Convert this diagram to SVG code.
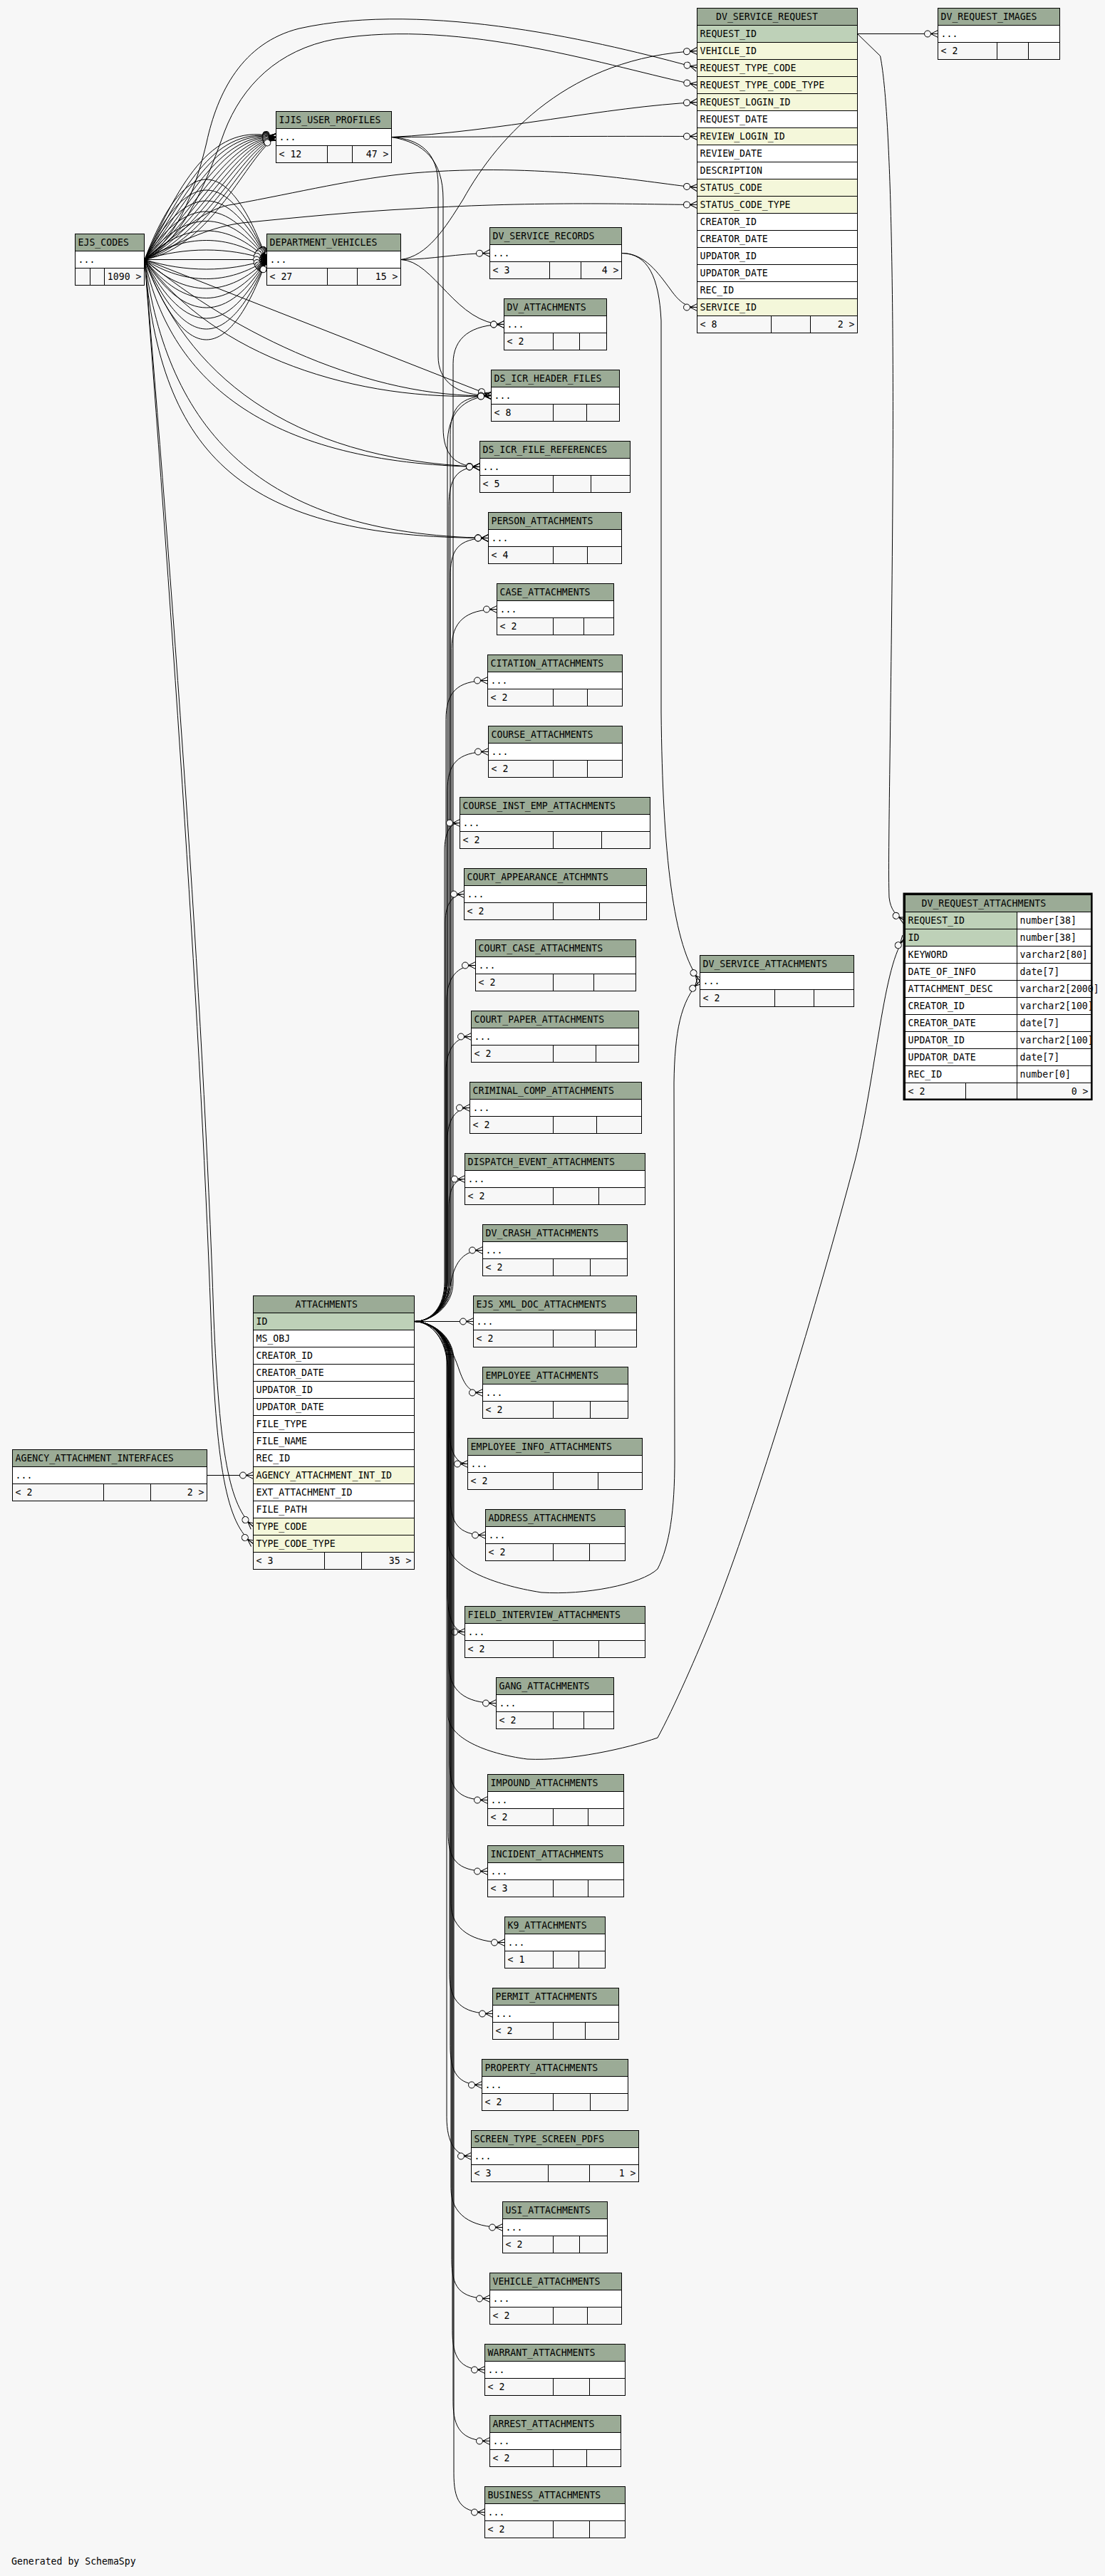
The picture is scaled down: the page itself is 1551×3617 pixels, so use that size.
<svg xmlns="http://www.w3.org/2000/svg" width="1551" height="3617" viewBox="0 0 1551 3617">
<style>
.h{fill:#9bab96;stroke:#000;stroke-width:1}
.pk{fill:#bed1b8;stroke:#000;stroke-width:1}
.fk{fill:#f4f7da;stroke:#000;stroke-width:1}
.w{fill:#fff;stroke:#000;stroke-width:1}
.ft{fill:#f7f7f7;stroke:#000;stroke-width:1}
.n{fill:none;stroke:#000;stroke-width:1}
.c{fill:none;stroke:#000;stroke-width:1;marker-end:url(#crow)}
.t{font-family:"DejaVu Sans Mono","Liberation Mono",monospace;font-size:13.2px;fill:#000}
.e{text-anchor:end}
</style>
<defs>
<marker id="crow" viewBox="-21 -7 22 14" refX="0" refY="0" markerWidth="22" markerHeight="14" markerUnits="userSpaceOnUse" orient="auto">
<path d="M-10,0 L0,-5 M-10,0 L0,0 M-10,0 L0,5" fill="none" stroke="#000" stroke-width="1"/>
<circle cx="-14.5" cy="0" r="4.5" fill="#f7f7f7" stroke="#000" stroke-width="1"/>
</marker>
</defs>
<rect x="0" y="0" width="1551" height="3617" fill="#f7f7f7"/>

<g id="connectors">
<!-- DV_SERVICE_REQUEST -> children -->
<path class="c" d="M1203.5,47.5 L1316.5,47.5"/>
<path class="c" d="M1203.5,47.5 L1235.5,78.5 C1250,150 1255,400 1253,700 C1251,1000 1246,1200 1248,1260 C1250,1278 1258,1286 1270.5,1292.5"/>
<!-- ATTACHMENTS loops -->
<path class="c" d="M582,1855.5 C605,1856 628,1880 629,1920 L630,2170 C632,2200 690,2225 760,2236 C820,2240 900,2225 923,2203 C940,2170 947,2120 947,2050 L946,1520 C947,1450 955,1405 982.5,1377.5"/>
<path class="c" d="M582,1855.5 C605,1856 627,1880 628,1920 L629,2410 C631,2440 680,2462 740,2470 C800,2473 880,2455 923,2440 C945,2400 980,2320 1000,2270 C1060,2120 1150,1820 1200,1630 C1230,1510 1240,1350 1270.5,1316.5"/>
<!-- DV_SERVICE_RECORDS -> children -->
<path class="c" d="M872.5,355.5 C905,355 925,385 940,405 C952,422 962,431.5 978.5,431.5"/>
<path class="c" d="M872.5,355.5 C910,356 925,390 928,450 L928,1000 C930,1200 945,1330 982.5,1377.5"/>
<!-- DEPARTMENT_VEHICLES -> children -->
<path class="c" d="M562.5,364.5 C610,364 640,356 687.5,355.5"/>
<path class="c" d="M562.5,364.5 C610,366 640,455.5 707.5,455.5"/>
<path class="c" d="M562.5,364.5 C600,360 625,320 650,280 C700,190 800,80 978.5,71.5"/>
<!-- IJIS_USER_PROFILES -> children -->
<path class="c" d="M549.5,192.5 C700,185 850,150 978.5,143.5"/>
<path class="c" d="M549.5,192.5 C700,192 850,191 978.5,191.5"/>
<path class="c" d="M549.5,192.5 C590,195 615,215 615,260 L615,500 C615,535 640,555.5 689.5,555.5"/>
<path class="c" d="M549.5,192.5 C595,200 622,225 622,280 L622,600 C622,640 640,655.5 673.5,655.5"/>
<!-- EJS_CODES -> DV_SERVICE_REQUEST -->
<path class="c" d="M203,364.5 C255,330 278,250 290,200 C305,130 340,60 420,40 C600,0 850,60 978.5,95.5"/>
<path class="c" d="M203,364.5 C262,335 295,240 315,185 C340,120 390,70 470,55 C650,25 860,95 978.5,119.5"/>
<path class="c" d="M203,364.5 C260,320 290,292 327,287 C420,270 500,250 580,243 C760,228 900,255 978.5,263.5"/>
<path class="c" d="M203,364.5 C260,335 300,318 340,313 C420,305 500,297 580,293 C760,282 900,287 978.5,287.5"/>
<!-- EJS_CODES -> IJIS_USER_PROFILES -->
<path class="c" d="M203,364.5 C255,250 300,170 387.5,192.5"/>
<path class="c" d="M203,364.5 C259,259 304,175 387.5,192.5"/>
<path class="c" d="M203,364.5 C263,267 308,179 387.5,192.5"/>
<path class="c" d="M203,364.5 C267,276 312,184 387.5,192.5"/>
<path class="c" d="M203,364.5 C271,285 316,188 387.5,192.5"/>
<path class="c" d="M203,364.5 C276,293 321,193 387.5,192.5"/>
<path class="c" d="M203,364.5 C280,302 325,197 387.5,192.5"/>
<path class="c" d="M203,364.5 C284,311 329,202 387.5,192.5"/>
<path class="c" d="M203,364.5 C288,319 333,206 387.5,192.5"/>
<path class="c" d="M203,364.5 C292,328 337,211 387.5,192.5"/>
<path class="c" d="M203,364.5 C296,336 341,216 387.5,192.5"/>
<path class="c" d="M203,364.5 C300,345 345,220 387.5,192.5"/>
<!-- EJS_CODES -> DEPARTMENT_VEHICLES -->
<path class="c" d="M203,364.5 C260,214.5 320,214.5 374.5,364.5"/>
<path class="c" d="M203,364.5 C260,234.5 320,234.5 374.5,364.5"/>
<path class="c" d="M203,364.5 C260,254.5 320,254.5 374.5,364.5"/>
<path class="c" d="M203,364.5 C260,274.5 320,274.5 374.5,364.5"/>
<path class="c" d="M203,364.5 C260,292.5 320,292.5 374.5,364.5"/>
<path class="c" d="M203,364.5 C260,310.5 320,310.5 374.5,364.5"/>
<path class="c" d="M203,364.5 C260,328.5 320,328.5 374.5,364.5"/>
<path class="c" d="M203,364.5 C260,346.5 320,346.5 374.5,364.5"/>
<path class="c" d="M203,364.5 L374.5,364.5"/>
<path class="c" d="M203,364.5 C260,382.5 320,382.5 374.5,364.5"/>
<path class="c" d="M203,364.5 C260,400.5 320,400.5 374.5,364.5"/>
<path class="c" d="M203,364.5 C260,418.5 320,418.5 374.5,364.5"/>
<path class="c" d="M203,364.5 C260,436.5 320,436.5 374.5,364.5"/>
<path class="c" d="M203,364.5 C260,454.5 320,454.5 374.5,364.5"/>
<path class="c" d="M203,364.5 C260,474.5 320,474.5 374.5,364.5"/>
<path class="c" d="M203,364.5 C260,494.5 320,494.5 374.5,364.5"/>
<path class="c" d="M203,364.5 C260,514.5 320,514.5 374.5,364.5"/>
<!-- EJS_CODES -> right column -->
<path class="c" d="M203,364.5 L689.5,555.5"/>
<path class="c" d="M203,364.5 C330,470 520,560 689.5,555.5"/>
<path class="c" d="M203,364.5 C300,500 500,565 689.5,555.5"/>
<path class="c" d="M203,364.5 C260,520 400,645 673.5,655.5"/>
<path class="c" d="M203,364.5 C240,540 380,650 673.5,655.5"/>
<path class="c" d="M203,364.5 C235,600 360,750 685.5,755.5"/>
<path class="c" d="M203,364.5 C225,640 340,755 685.5,755.5"/>
<!-- EJS_CODES -> ATTACHMENTS -->
<path class="c" d="M203,364.5 C240,800 285,1400 300,1850 C308,2040 322,2115 355.5,2143.5"/>
<path class="c" d="M203,364.5 C236,800 280,1400 296,1850 C303,2060 318,2140 355.5,2167.5"/>
<!-- AGENCY_ATTACHMENT_INTERFACES -> ATTACHMENTS -->
<path class="c" d="M290.5,2071.5 L355.5,2071.5"/>
<!-- ATTACHMENTS -> right column (up) -->
<path class="c" d="M582,1855.5 C605,1855.5 636,1835 636,1800 L636,510.5 C636,473.5 662,455.5 707.5,455.5"/>
<path class="c" d="M582,1855.5 C605,1855.5 632,1835 632,1800 L632,610.5 C632,573.5 645,555.5 689.5,555.5"/>
<path class="c" d="M582,1855.5 C605,1855.5 628,1835 628,1800 L628,625 C628,580 650,558 689.5,555.5"/>
<path class="c" d="M582,1855.5 C605,1855.5 630,1835 630,1800 L630,710.5 C630,673.5 640,655.5 673.5,655.5"/>
<path class="c" d="M582,1855.5 C605,1855.5 632,1835 632,1800 L632,810.5 C632,773.5 641,755.5 685.5,755.5"/>
<path class="c" d="M582,1855.5 C605,1855.5 634,1835 634,1800 L634,910.5 C634,873.5 653,855.5 697.5,855.5"/>
<path class="c" d="M582,1855.5 C605,1855.5 626,1835 626,1800 L626,1010.5 C626,973.5 640,955.5 684.5,955.5"/>
<path class="c" d="M582,1855.5 C605,1855.5 628,1835 628,1800 L628,1110.5 C628,1073.5 641,1055.5 685.5,1055.5"/>
<path class="c" d="M582,1855.5 C605,1855.5 624,1835 624,1800 L624,1195 C624,1168 632,1155.5 645.5,1155.5"/>
<path class="c" d="M582,1855.5 C605,1855.5 625,1835 625,1800 L625,1295 C625,1268 636,1255.5 651.5,1255.5"/>
<path class="c" d="M582,1855.5 C605,1855.5 627,1835 627,1800 L627,1405 C627,1373 642,1355.5 667.5,1355.5"/>
<path class="c" d="M582,1855.5 C605,1855.5 626,1835 626,1800 L626,1505 C626,1473 640,1455.5 661.5,1455.5"/>
<path class="c" d="M582,1855.5 C605,1855.5 628,1835 628,1800 L628,1600 C628,1572 640,1555.5 659.5,1555.5"/>
<path class="c" d="M582,1855.5 C605,1855.5 630,1835 630,1800 L630,1695 C630,1670 638,1655.5 652.5,1655.5"/>
<path class="c" d="M582,1855.5 C612,1855 628,1828 633,1800 C639,1770 652,1755.5 677.5,1755.5"/>
<!-- ATTACHMENTS -> right column (same row / down) -->
<path class="c" d="M582,1855.5 L664.5,1855.5"/>
<path class="c" d="M582,1855.5 C618,1857 635,1895 645,1925 C653,1947 660,1955.5 677.5,1955.5"/>
<path class="c" d="M582,1855.5 C605,1855.5 630,1875 630,1910 L630,2000.5 C630,2037.5 640,2055.5 656.5,2055.5"/>
<path class="c" d="M582,1855.5 C605,1855.5 632,1875 632,1910 L632,2100.5 C632,2137.5 642,2155.5 681.5,2155.5"/>
<path class="c" d="M582,1855.5 C605,1855.5 628,1875 628,1910 L628,2236.5 C628,2273.5 638,2291.5 652.5,2291.5"/>
<path class="c" d="M582,1855.5 C605,1855.5 630,1875 630,1910 L630,2336.5 C630,2373.5 652,2391.5 696.5,2391.5"/>
<path class="c" d="M582,1855.5 C605,1855.5 631,1875 631,1910 L631,2472.5 C631,2509.5 640,2527.5 684.5,2527.5"/>
<path class="c" d="M582,1855.5 C605,1855.5 629,1875 629,1910 L629,2572.5 C629,2609.5 640,2627.5 684.5,2627.5"/>
<path class="c" d="M582,1855.5 C605,1855.5 633,1875 633,1910 L633,2672.5 C633,2709.5 664,2727.5 708.5,2727.5"/>
<path class="c" d="M582,1855.5 C605,1855.5 631,1875 631,1910 L631,2772.5 C631,2809.5 647,2827.5 691.5,2827.5"/>
<path class="c" d="M582,1855.5 C605,1855.5 632,1875 632,1910 L632,2872.5 C632,2909.5 642,2927.5 676.5,2927.5"/>
<path class="c" d="M582,1855.5 C605,1855.5 627,1875 627,1910 L627,2972.5 C627,3009.5 640,3027.5 661.5,3027.5"/>
<path class="c" d="M582,1855.5 C605,1855.5 633,1875 633,1910 L633,3072.5 C633,3109.5 661,3127.5 705.5,3127.5"/>
<path class="c" d="M582,1855.5 C605,1855.5 634,1875 634,1910 L634,3172.5 C634,3209.5 643,3227.5 687.5,3227.5"/>
<path class="c" d="M582,1855.5 C605,1855.5 635,1875 635,1910 L635,3272.5 C635,3309.5 645,3327.5 680.5,3327.5"/>
<path class="c" d="M582,1855.5 C605,1855.5 636,1875 636,1910 L636,3372.5 C636,3409.5 648,3427.5 687.5,3427.5"/>
<path class="c" d="M582,1855.5 C605,1855.5 637,1875 637,1910 L637,3472.5 C637,3509.5 645,3527.5 680.5,3527.5"/>
</g>

<g id="DV_SERVICE_REQUEST">
<rect class="h" x="978.5" y="11.5" width="225" height="24"/>
<rect class="pk" x="978.5" y="35.5" width="225" height="24"/>
<rect class="fk" x="978.5" y="59.5" width="225" height="24"/>
<rect class="fk" x="978.5" y="83.5" width="225" height="24"/>
<rect class="fk" x="978.5" y="107.5" width="225" height="24"/>
<rect class="fk" x="978.5" y="131.5" width="225" height="24"/>
<rect class="w" x="978.5" y="155.5" width="225" height="24"/>
<rect class="fk" x="978.5" y="179.5" width="225" height="24"/>
<rect class="w" x="978.5" y="203.5" width="225" height="24"/>
<rect class="w" x="978.5" y="227.5" width="225" height="24"/>
<rect class="fk" x="978.5" y="251.5" width="225" height="24"/>
<rect class="fk" x="978.5" y="275.5" width="225" height="24"/>
<rect class="w" x="978.5" y="299.5" width="225" height="24"/>
<rect class="w" x="978.5" y="323.5" width="225" height="24"/>
<rect class="w" x="978.5" y="347.5" width="225" height="24"/>
<rect class="w" x="978.5" y="371.5" width="225" height="24"/>
<rect class="w" x="978.5" y="395.5" width="225" height="24"/>
<rect class="fk" x="978.5" y="419.5" width="225" height="24"/>
<rect class="ft" x="978.5" y="443.5" width="225" height="24"/>
<path class="n" d="M1082.5,443.5v24M1137.5,443.5v24"/>
<text class="t" x="1005" y="28">DV_SERVICE_REQUEST</text>
<text class="t" x="982.5" y="52">REQUEST_ID</text>
<text class="t" x="982.5" y="76">VEHICLE_ID</text>
<text class="t" x="982.5" y="100">REQUEST_TYPE_CODE</text>
<text class="t" x="982.5" y="124">REQUEST_TYPE_CODE_TYPE</text>
<text class="t" x="982.5" y="148">REQUEST_LOGIN_ID</text>
<text class="t" x="982.5" y="172">REQUEST_DATE</text>
<text class="t" x="982.5" y="196">REVIEW_LOGIN_ID</text>
<text class="t" x="982.5" y="220">REVIEW_DATE</text>
<text class="t" x="982.5" y="244">DESCRIPTION</text>
<text class="t" x="982.5" y="268">STATUS_CODE</text>
<text class="t" x="982.5" y="292">STATUS_CODE_TYPE</text>
<text class="t" x="982.5" y="316">CREATOR_ID</text>
<text class="t" x="982.5" y="340">CREATOR_DATE</text>
<text class="t" x="982.5" y="364">UPDATOR_ID</text>
<text class="t" x="982.5" y="388">UPDATOR_DATE</text>
<text class="t" x="982.5" y="412">REC_ID</text>
<text class="t" x="982.5" y="436">SERVICE_ID</text>
<text class="t" x="982.5" y="460">&lt; 8</text>
<text class="t e" x="1199.5" y="460">2 &gt;</text>
</g>

<g id="DV_REQUEST_IMAGES">
<rect class="h" x="1316.5" y="11.5" width="171" height="24"/>
<rect class="w" x="1316.5" y="35.5" width="171" height="24"/>
<rect class="ft" x="1316.5" y="59.5" width="171" height="24"/>
<path class="n" d="M1399.5,59.5v24M1443.5,59.5v24"/>
<text class="t" x="1320.5" y="28">DV_REQUEST_IMAGES</text>
<text class="t" x="1320.5" y="52">...</text>
<text class="t" x="1320.5" y="76">&lt; 2</text>
</g>

<g id="EJS_CODES">
<rect class="h" x="105.5" y="328.5" width="97" height="24"/>
<rect class="w" x="105.5" y="352.5" width="97" height="24"/>
<rect class="ft" x="105.5" y="376.5" width="97" height="24"/>
<path class="n" d="M126.5,376.5v24M146.5,376.5v24"/>
<text class="t" x="109.5" y="345">EJS_CODES</text>
<text class="t" x="109.5" y="369">...</text>
<text class="t e" x="198.5" y="393">1090 &gt;</text>
</g>

<g id="IJIS_USER_PROFILES">
<rect class="h" x="387.5" y="156.5" width="162" height="24"/>
<rect class="w" x="387.5" y="180.5" width="162" height="24"/>
<rect class="ft" x="387.5" y="204.5" width="162" height="24"/>
<path class="n" d="M459.5,204.5v24M494.5,204.5v24"/>
<text class="t" x="391.5" y="173">IJIS_USER_PROFILES</text>
<text class="t" x="391.5" y="197">...</text>
<text class="t" x="391.5" y="221">&lt; 12</text>
<text class="t e" x="545.5" y="221">47 &gt;</text>
</g>

<g id="DEPARTMENT_VEHICLES">
<rect class="h" x="374.5" y="328.5" width="188" height="24"/>
<rect class="w" x="374.5" y="352.5" width="188" height="24"/>
<rect class="ft" x="374.5" y="376.5" width="188" height="24"/>
<path class="n" d="M459.5,376.5v24M501.5,376.5v24"/>
<text class="t" x="378.5" y="345">DEPARTMENT_VEHICLES</text>
<text class="t" x="378.5" y="369">...</text>
<text class="t" x="378.5" y="393">&lt; 27</text>
<text class="t e" x="558.5" y="393">15 &gt;</text>
</g>

<g id="DV_SERVICE_RECORDS">
<rect class="h" x="687.5" y="319.5" width="185" height="24"/>
<rect class="w" x="687.5" y="343.5" width="185" height="24"/>
<rect class="ft" x="687.5" y="367.5" width="185" height="24"/>
<path class="n" d="M771.5,367.5v24M815.5,367.5v24"/>
<text class="t" x="691.5" y="336">DV_SERVICE_RECORDS</text>
<text class="t" x="691.5" y="360">...</text>
<text class="t" x="691.5" y="384">&lt; 3</text>
<text class="t e" x="868.5" y="384">4 &gt;</text>
</g>

<g id="DV_ATTACHMENTS">
<rect class="h" x="707.5" y="419.5" width="144" height="24"/>
<rect class="w" x="707.5" y="443.5" width="144" height="24"/>
<rect class="ft" x="707.5" y="467.5" width="144" height="24"/>
<path class="n" d="M776.5,467.5v24M813.5,467.5v24"/>
<text class="t" x="711.5" y="436">DV_ATTACHMENTS</text>
<text class="t" x="711.5" y="460">...</text>
<text class="t" x="711.5" y="484">&lt; 2</text>
</g>

<g id="DS_ICR_HEADER_FILES">
<rect class="h" x="689.5" y="519.5" width="180" height="24"/>
<rect class="w" x="689.5" y="543.5" width="180" height="24"/>
<rect class="ft" x="689.5" y="567.5" width="180" height="24"/>
<path class="n" d="M776.5,567.5v24M823.5,567.5v24"/>
<text class="t" x="693.5" y="536">DS_ICR_HEADER_FILES</text>
<text class="t" x="693.5" y="560">...</text>
<text class="t" x="693.5" y="584">&lt; 8</text>
</g>

<g id="DS_ICR_FILE_REFERENCES">
<rect class="h" x="673.5" y="619.5" width="211" height="24"/>
<rect class="w" x="673.5" y="643.5" width="211" height="24"/>
<rect class="ft" x="673.5" y="667.5" width="211" height="24"/>
<path class="n" d="M776.5,667.5v24M829.5,667.5v24"/>
<text class="t" x="677.5" y="636">DS_ICR_FILE_REFERENCES</text>
<text class="t" x="677.5" y="660">...</text>
<text class="t" x="677.5" y="684">&lt; 5</text>
</g>

<g id="PERSON_ATTACHMENTS">
<rect class="h" x="685.5" y="719.5" width="187" height="24"/>
<rect class="w" x="685.5" y="743.5" width="187" height="24"/>
<rect class="ft" x="685.5" y="767.5" width="187" height="24"/>
<path class="n" d="M776.5,767.5v24M824.5,767.5v24"/>
<text class="t" x="689.5" y="736">PERSON_ATTACHMENTS</text>
<text class="t" x="689.5" y="760">...</text>
<text class="t" x="689.5" y="784">&lt; 4</text>
</g>

<g id="CASE_ATTACHMENTS">
<rect class="h" x="697.5" y="819.5" width="164" height="24"/>
<rect class="w" x="697.5" y="843.5" width="164" height="24"/>
<rect class="ft" x="697.5" y="867.5" width="164" height="24"/>
<path class="n" d="M776.5,867.5v24M819.5,867.5v24"/>
<text class="t" x="701.5" y="836">CASE_ATTACHMENTS</text>
<text class="t" x="701.5" y="860">...</text>
<text class="t" x="701.5" y="884">&lt; 2</text>
</g>

<g id="CITATION_ATTACHMENTS">
<rect class="h" x="684.5" y="919.5" width="189" height="24"/>
<rect class="w" x="684.5" y="943.5" width="189" height="24"/>
<rect class="ft" x="684.5" y="967.5" width="189" height="24"/>
<path class="n" d="M776.5,967.5v24M824.5,967.5v24"/>
<text class="t" x="688.5" y="936">CITATION_ATTACHMENTS</text>
<text class="t" x="688.5" y="960">...</text>
<text class="t" x="688.5" y="984">&lt; 2</text>
</g>

<g id="COURSE_ATTACHMENTS">
<rect class="h" x="685.5" y="1019.5" width="188" height="24"/>
<rect class="w" x="685.5" y="1043.5" width="188" height="24"/>
<rect class="ft" x="685.5" y="1067.5" width="188" height="24"/>
<path class="n" d="M776.5,1067.5v24M824.5,1067.5v24"/>
<text class="t" x="689.5" y="1036">COURSE_ATTACHMENTS</text>
<text class="t" x="689.5" y="1060">...</text>
<text class="t" x="689.5" y="1084">&lt; 2</text>
</g>

<g id="COURSE_INST_EMP_ATTACHMENTS">
<rect class="h" x="645.5" y="1119.5" width="267" height="24"/>
<rect class="w" x="645.5" y="1143.5" width="267" height="24"/>
<rect class="ft" x="645.5" y="1167.5" width="267" height="24"/>
<path class="n" d="M776.5,1167.5v24M844.5,1167.5v24"/>
<text class="t" x="649.5" y="1136">COURSE_INST_EMP_ATTACHMENTS</text>
<text class="t" x="649.5" y="1160">...</text>
<text class="t" x="649.5" y="1184">&lt; 2</text>
</g>

<g id="COURT_APPEARANCE_ATCHMNTS">
<rect class="h" x="651.5" y="1219.5" width="256" height="24"/>
<rect class="w" x="651.5" y="1243.5" width="256" height="24"/>
<rect class="ft" x="651.5" y="1267.5" width="256" height="24"/>
<path class="n" d="M776.5,1267.5v24M841.5,1267.5v24"/>
<text class="t" x="655.5" y="1236">COURT_APPEARANCE_ATCHMNTS</text>
<text class="t" x="655.5" y="1260">...</text>
<text class="t" x="655.5" y="1284">&lt; 2</text>
</g>

<g id="COURT_CASE_ATTACHMENTS">
<rect class="h" x="667.5" y="1319.5" width="225" height="24"/>
<rect class="w" x="667.5" y="1343.5" width="225" height="24"/>
<rect class="ft" x="667.5" y="1367.5" width="225" height="24"/>
<path class="n" d="M776.5,1367.5v24M833.5,1367.5v24"/>
<text class="t" x="671.5" y="1336">COURT_CASE_ATTACHMENTS</text>
<text class="t" x="671.5" y="1360">...</text>
<text class="t" x="671.5" y="1384">&lt; 2</text>
</g>

<g id="COURT_PAPER_ATTACHMENTS">
<rect class="h" x="661.5" y="1419.5" width="235" height="24"/>
<rect class="w" x="661.5" y="1443.5" width="235" height="24"/>
<rect class="ft" x="661.5" y="1467.5" width="235" height="24"/>
<path class="n" d="M776.5,1467.5v24M836.5,1467.5v24"/>
<text class="t" x="665.5" y="1436">COURT_PAPER_ATTACHMENTS</text>
<text class="t" x="665.5" y="1460">...</text>
<text class="t" x="665.5" y="1484">&lt; 2</text>
</g>

<g id="CRIMINAL_COMP_ATTACHMENTS">
<rect class="h" x="659.5" y="1519.5" width="241" height="24"/>
<rect class="w" x="659.5" y="1543.5" width="241" height="24"/>
<rect class="ft" x="659.5" y="1567.5" width="241" height="24"/>
<path class="n" d="M776.5,1567.5v24M837.5,1567.5v24"/>
<text class="t" x="663.5" y="1536">CRIMINAL_COMP_ATTACHMENTS</text>
<text class="t" x="663.5" y="1560">...</text>
<text class="t" x="663.5" y="1584">&lt; 2</text>
</g>

<g id="DISPATCH_EVENT_ATTACHMENTS">
<rect class="h" x="652.5" y="1619.5" width="253" height="24"/>
<rect class="w" x="652.5" y="1643.5" width="253" height="24"/>
<rect class="ft" x="652.5" y="1667.5" width="253" height="24"/>
<path class="n" d="M776.5,1667.5v24M840.5,1667.5v24"/>
<text class="t" x="656.5" y="1636">DISPATCH_EVENT_ATTACHMENTS</text>
<text class="t" x="656.5" y="1660">...</text>
<text class="t" x="656.5" y="1684">&lt; 2</text>
</g>

<g id="DV_CRASH_ATTACHMENTS">
<rect class="h" x="677.5" y="1719.5" width="203" height="24"/>
<rect class="w" x="677.5" y="1743.5" width="203" height="24"/>
<rect class="ft" x="677.5" y="1767.5" width="203" height="24"/>
<path class="n" d="M776.5,1767.5v24M828.5,1767.5v24"/>
<text class="t" x="681.5" y="1736">DV_CRASH_ATTACHMENTS</text>
<text class="t" x="681.5" y="1760">...</text>
<text class="t" x="681.5" y="1784">&lt; 2</text>
</g>

<g id="EJS_XML_DOC_ATTACHMENTS">
<rect class="h" x="664.5" y="1819.5" width="229" height="24"/>
<rect class="w" x="664.5" y="1843.5" width="229" height="24"/>
<rect class="ft" x="664.5" y="1867.5" width="229" height="24"/>
<path class="n" d="M776.5,1867.5v24M835.5,1867.5v24"/>
<text class="t" x="668.5" y="1836">EJS_XML_DOC_ATTACHMENTS</text>
<text class="t" x="668.5" y="1860">...</text>
<text class="t" x="668.5" y="1884">&lt; 2</text>
</g>

<g id="EMPLOYEE_ATTACHMENTS">
<rect class="h" x="677.5" y="1919.5" width="204" height="24"/>
<rect class="w" x="677.5" y="1943.5" width="204" height="24"/>
<rect class="ft" x="677.5" y="1967.5" width="204" height="24"/>
<path class="n" d="M776.5,1967.5v24M828.5,1967.5v24"/>
<text class="t" x="681.5" y="1936">EMPLOYEE_ATTACHMENTS</text>
<text class="t" x="681.5" y="1960">...</text>
<text class="t" x="681.5" y="1984">&lt; 2</text>
</g>

<g id="EMPLOYEE_INFO_ATTACHMENTS">
<rect class="h" x="656.5" y="2019.5" width="245" height="24"/>
<rect class="w" x="656.5" y="2043.5" width="245" height="24"/>
<rect class="ft" x="656.5" y="2067.5" width="245" height="24"/>
<path class="n" d="M776.5,2067.5v24M839.5,2067.5v24"/>
<text class="t" x="660.5" y="2036">EMPLOYEE_INFO_ATTACHMENTS</text>
<text class="t" x="660.5" y="2060">...</text>
<text class="t" x="660.5" y="2084">&lt; 2</text>
</g>

<g id="ADDRESS_ATTACHMENTS">
<rect class="h" x="681.5" y="2119.5" width="196" height="24"/>
<rect class="w" x="681.5" y="2143.5" width="196" height="24"/>
<rect class="ft" x="681.5" y="2167.5" width="196" height="24"/>
<path class="n" d="M776.5,2167.5v24M827.5,2167.5v24"/>
<text class="t" x="685.5" y="2136">ADDRESS_ATTACHMENTS</text>
<text class="t" x="685.5" y="2160">...</text>
<text class="t" x="685.5" y="2184">&lt; 2</text>
</g>

<g id="FIELD_INTERVIEW_ATTACHMENTS">
<rect class="h" x="652.5" y="2255.5" width="253" height="24"/>
<rect class="w" x="652.5" y="2279.5" width="253" height="24"/>
<rect class="ft" x="652.5" y="2303.5" width="253" height="24"/>
<path class="n" d="M776.5,2303.5v24M840.5,2303.5v24"/>
<text class="t" x="656.5" y="2272">FIELD_INTERVIEW_ATTACHMENTS</text>
<text class="t" x="656.5" y="2296">...</text>
<text class="t" x="656.5" y="2320">&lt; 2</text>
</g>

<g id="GANG_ATTACHMENTS">
<rect class="h" x="696.5" y="2355.5" width="165" height="24"/>
<rect class="w" x="696.5" y="2379.5" width="165" height="24"/>
<rect class="ft" x="696.5" y="2403.5" width="165" height="24"/>
<path class="n" d="M776.5,2403.5v24M819.5,2403.5v24"/>
<text class="t" x="700.5" y="2372">GANG_ATTACHMENTS</text>
<text class="t" x="700.5" y="2396">...</text>
<text class="t" x="700.5" y="2420">&lt; 2</text>
</g>

<g id="IMPOUND_ATTACHMENTS">
<rect class="h" x="684.5" y="2491.5" width="191" height="24"/>
<rect class="w" x="684.5" y="2515.5" width="191" height="24"/>
<rect class="ft" x="684.5" y="2539.5" width="191" height="24"/>
<path class="n" d="M776.5,2539.5v24M825.5,2539.5v24"/>
<text class="t" x="688.5" y="2508">IMPOUND_ATTACHMENTS</text>
<text class="t" x="688.5" y="2532">...</text>
<text class="t" x="688.5" y="2556">&lt; 2</text>
</g>

<g id="INCIDENT_ATTACHMENTS">
<rect class="h" x="684.5" y="2591.5" width="191" height="24"/>
<rect class="w" x="684.5" y="2615.5" width="191" height="24"/>
<rect class="ft" x="684.5" y="2639.5" width="191" height="24"/>
<path class="n" d="M776.5,2639.5v24M825.5,2639.5v24"/>
<text class="t" x="688.5" y="2608">INCIDENT_ATTACHMENTS</text>
<text class="t" x="688.5" y="2632">...</text>
<text class="t" x="688.5" y="2656">&lt; 3</text>
</g>

<g id="K9_ATTACHMENTS">
<rect class="h" x="708.5" y="2691.5" width="141" height="24"/>
<rect class="w" x="708.5" y="2715.5" width="141" height="24"/>
<rect class="ft" x="708.5" y="2739.5" width="141" height="24"/>
<path class="n" d="M776.5,2739.5v24M812.5,2739.5v24"/>
<text class="t" x="712.5" y="2708">K9_ATTACHMENTS</text>
<text class="t" x="712.5" y="2732">...</text>
<text class="t" x="712.5" y="2756">&lt; 1</text>
</g>

<g id="PERMIT_ATTACHMENTS">
<rect class="h" x="691.5" y="2791.5" width="177" height="24"/>
<rect class="w" x="691.5" y="2815.5" width="177" height="24"/>
<rect class="ft" x="691.5" y="2839.5" width="177" height="24"/>
<path class="n" d="M776.5,2839.5v24M821.5,2839.5v24"/>
<text class="t" x="695.5" y="2808">PERMIT_ATTACHMENTS</text>
<text class="t" x="695.5" y="2832">...</text>
<text class="t" x="695.5" y="2856">&lt; 2</text>
</g>

<g id="PROPERTY_ATTACHMENTS">
<rect class="h" x="676.5" y="2891.5" width="205" height="24"/>
<rect class="w" x="676.5" y="2915.5" width="205" height="24"/>
<rect class="ft" x="676.5" y="2939.5" width="205" height="24"/>
<path class="n" d="M776.5,2939.5v24M828.5,2939.5v24"/>
<text class="t" x="680.5" y="2908">PROPERTY_ATTACHMENTS</text>
<text class="t" x="680.5" y="2932">...</text>
<text class="t" x="680.5" y="2956">&lt; 2</text>
</g>

<g id="SCREEN_TYPE_SCREEN_PDFS">
<rect class="h" x="661.5" y="2991.5" width="235" height="24"/>
<rect class="w" x="661.5" y="3015.5" width="235" height="24"/>
<rect class="ft" x="661.5" y="3039.5" width="235" height="24"/>
<path class="n" d="M769.5,3039.5v24M827.5,3039.5v24"/>
<text class="t" x="665.5" y="3008">SCREEN_TYPE_SCREEN_PDFS</text>
<text class="t" x="665.5" y="3032">...</text>
<text class="t" x="665.5" y="3056">&lt; 3</text>
<text class="t e" x="892.5" y="3056">1 &gt;</text>
</g>

<g id="USI_ATTACHMENTS">
<rect class="h" x="705.5" y="3091.5" width="147" height="24"/>
<rect class="w" x="705.5" y="3115.5" width="147" height="24"/>
<rect class="ft" x="705.5" y="3139.5" width="147" height="24"/>
<path class="n" d="M776.5,3139.5v24M813.5,3139.5v24"/>
<text class="t" x="709.5" y="3108">USI_ATTACHMENTS</text>
<text class="t" x="709.5" y="3132">...</text>
<text class="t" x="709.5" y="3156">&lt; 2</text>
</g>

<g id="VEHICLE_ATTACHMENTS">
<rect class="h" x="687.5" y="3191.5" width="185" height="24"/>
<rect class="w" x="687.5" y="3215.5" width="185" height="24"/>
<rect class="ft" x="687.5" y="3239.5" width="185" height="24"/>
<path class="n" d="M776.5,3239.5v24M824.5,3239.5v24"/>
<text class="t" x="691.5" y="3208">VEHICLE_ATTACHMENTS</text>
<text class="t" x="691.5" y="3232">...</text>
<text class="t" x="691.5" y="3256">&lt; 2</text>
</g>

<g id="WARRANT_ATTACHMENTS">
<rect class="h" x="680.5" y="3291.5" width="197" height="24"/>
<rect class="w" x="680.5" y="3315.5" width="197" height="24"/>
<rect class="ft" x="680.5" y="3339.5" width="197" height="24"/>
<path class="n" d="M776.5,3339.5v24M827.5,3339.5v24"/>
<text class="t" x="684.5" y="3308">WARRANT_ATTACHMENTS</text>
<text class="t" x="684.5" y="3332">...</text>
<text class="t" x="684.5" y="3356">&lt; 2</text>
</g>

<g id="ARREST_ATTACHMENTS">
<rect class="h" x="687.5" y="3391.5" width="184" height="24"/>
<rect class="w" x="687.5" y="3415.5" width="184" height="24"/>
<rect class="ft" x="687.5" y="3439.5" width="184" height="24"/>
<path class="n" d="M776.5,3439.5v24M823.5,3439.5v24"/>
<text class="t" x="691.5" y="3408">ARREST_ATTACHMENTS</text>
<text class="t" x="691.5" y="3432">...</text>
<text class="t" x="691.5" y="3456">&lt; 2</text>
</g>

<g id="BUSINESS_ATTACHMENTS">
<rect class="h" x="680.5" y="3491.5" width="197" height="24"/>
<rect class="w" x="680.5" y="3515.5" width="197" height="24"/>
<rect class="ft" x="680.5" y="3539.5" width="197" height="24"/>
<path class="n" d="M776.5,3539.5v24M827.5,3539.5v24"/>
<text class="t" x="684.5" y="3508">BUSINESS_ATTACHMENTS</text>
<text class="t" x="684.5" y="3532">...</text>
<text class="t" x="684.5" y="3556">&lt; 2</text>
</g>

<g id="DV_SERVICE_ATTACHMENTS">
<rect class="h" x="982.5" y="1341.5" width="216" height="24"/>
<rect class="w" x="982.5" y="1365.5" width="216" height="24"/>
<rect class="ft" x="982.5" y="1389.5" width="216" height="24"/>
<path class="n" d="M1087.5,1389.5v24M1142.5,1389.5v24"/>
<text class="t" x="986.5" y="1358">DV_SERVICE_ATTACHMENTS</text>
<text class="t" x="986.5" y="1382">...</text>
<text class="t" x="986.5" y="1406">&lt; 2</text>
</g>

<g id="DV_REQUEST_ATTACHMENTS">
<rect class="h" x="1270.5" y="1256.5" width="261" height="24"/>
<rect class="pk" x="1270.5" y="1280.5" width="157" height="24"/>
<rect class="w" x="1427.5" y="1280.5" width="104" height="24"/>
<rect class="pk" x="1270.5" y="1304.5" width="157" height="24"/>
<rect class="w" x="1427.5" y="1304.5" width="104" height="24"/>
<rect class="w" x="1270.5" y="1328.5" width="157" height="24"/>
<rect class="w" x="1427.5" y="1328.5" width="104" height="24"/>
<rect class="w" x="1270.5" y="1352.5" width="157" height="24"/>
<rect class="w" x="1427.5" y="1352.5" width="104" height="24"/>
<rect class="w" x="1270.5" y="1376.5" width="157" height="24"/>
<rect class="w" x="1427.5" y="1376.5" width="104" height="24"/>
<rect class="w" x="1270.5" y="1400.5" width="157" height="24"/>
<rect class="w" x="1427.5" y="1400.5" width="104" height="24"/>
<rect class="w" x="1270.5" y="1424.5" width="157" height="24"/>
<rect class="w" x="1427.5" y="1424.5" width="104" height="24"/>
<rect class="w" x="1270.5" y="1448.5" width="157" height="24"/>
<rect class="w" x="1427.5" y="1448.5" width="104" height="24"/>
<rect class="w" x="1270.5" y="1472.5" width="157" height="24"/>
<rect class="w" x="1427.5" y="1472.5" width="104" height="24"/>
<rect class="w" x="1270.5" y="1496.5" width="157" height="24"/>
<rect class="w" x="1427.5" y="1496.5" width="104" height="24"/>
<rect class="ft" x="1270.5" y="1520.5" width="261" height="24"/>
<path class="n" d="M1355.5,1520.5v24M1427.5,1520.5v24"/>
<rect x="1268.8" y="1254.8" width="263.5" height="289" fill="none" stroke="#000" stroke-width="2.6"/>
<text class="t" x="1293.5" y="1273">DV_REQUEST_ATTACHMENTS</text>
<text class="t" x="1274.5" y="1297">REQUEST_ID</text>
<text class="t" x="1431.5" y="1297">number[38]</text>
<text class="t" x="1274.5" y="1321">ID</text>
<text class="t" x="1431.5" y="1321">number[38]</text>
<text class="t" x="1274.5" y="1345">KEYWORD</text>
<text class="t" x="1431.5" y="1345">varchar2[80]</text>
<text class="t" x="1274.5" y="1369">DATE_OF_INFO</text>
<text class="t" x="1431.5" y="1369">date[7]</text>
<text class="t" x="1274.5" y="1393">ATTACHMENT_DESC</text>
<text class="t" x="1431.5" y="1393">varchar2[2000]</text>
<text class="t" x="1274.5" y="1417">CREATOR_ID</text>
<text class="t" x="1431.5" y="1417">varchar2[100]</text>
<text class="t" x="1274.5" y="1441">CREATOR_DATE</text>
<text class="t" x="1431.5" y="1441">date[7]</text>
<text class="t" x="1274.5" y="1465">UPDATOR_ID</text>
<text class="t" x="1431.5" y="1465">varchar2[100]</text>
<text class="t" x="1274.5" y="1489">UPDATOR_DATE</text>
<text class="t" x="1431.5" y="1489">date[7]</text>
<text class="t" x="1274.5" y="1513">REC_ID</text>
<text class="t" x="1431.5" y="1513">number[0]</text>
<text class="t" x="1274.5" y="1537">&lt; 2</text>
<text class="t e" x="1527.5" y="1537">0 &gt;</text>
</g>

<g id="ATTACHMENTS">
<rect class="h" x="355.5" y="1819.5" width="226" height="24"/>
<rect class="pk" x="355.5" y="1843.5" width="226" height="24"/>
<rect class="w" x="355.5" y="1867.5" width="226" height="24"/>
<rect class="w" x="355.5" y="1891.5" width="226" height="24"/>
<rect class="w" x="355.5" y="1915.5" width="226" height="24"/>
<rect class="w" x="355.5" y="1939.5" width="226" height="24"/>
<rect class="w" x="355.5" y="1963.5" width="226" height="24"/>
<rect class="w" x="355.5" y="1987.5" width="226" height="24"/>
<rect class="w" x="355.5" y="2011.5" width="226" height="24"/>
<rect class="w" x="355.5" y="2035.5" width="226" height="24"/>
<rect class="fk" x="355.5" y="2059.5" width="226" height="24"/>
<rect class="w" x="355.5" y="2083.5" width="226" height="24"/>
<rect class="w" x="355.5" y="2107.5" width="226" height="24"/>
<rect class="fk" x="355.5" y="2131.5" width="226" height="24"/>
<rect class="fk" x="355.5" y="2155.5" width="226" height="24"/>
<rect class="ft" x="355.5" y="2179.5" width="226" height="24"/>
<path class="n" d="M455.5,2179.5v24M507.5,2179.5v24"/>
<text class="t" x="414.5" y="1836">ATTACHMENTS</text>
<text class="t" x="359.5" y="1860">ID</text>
<text class="t" x="359.5" y="1884">MS_OBJ</text>
<text class="t" x="359.5" y="1908">CREATOR_ID</text>
<text class="t" x="359.5" y="1932">CREATOR_DATE</text>
<text class="t" x="359.5" y="1956">UPDATOR_ID</text>
<text class="t" x="359.5" y="1980">UPDATOR_DATE</text>
<text class="t" x="359.5" y="2004">FILE_TYPE</text>
<text class="t" x="359.5" y="2028">FILE_NAME</text>
<text class="t" x="359.5" y="2052">REC_ID</text>
<text class="t" x="359.5" y="2076">AGENCY_ATTACHMENT_INT_ID</text>
<text class="t" x="359.5" y="2100">EXT_ATTACHMENT_ID</text>
<text class="t" x="359.5" y="2124">FILE_PATH</text>
<text class="t" x="359.5" y="2148">TYPE_CODE</text>
<text class="t" x="359.5" y="2172">TYPE_CODE_TYPE</text>
<text class="t" x="359.5" y="2196">&lt; 3</text>
<text class="t e" x="577.5" y="2196">35 &gt;</text>
</g>

<g id="AGENCY_ATTACHMENT_INTERFACES">
<rect class="h" x="17.5" y="2035.5" width="273" height="24"/>
<rect class="w" x="17.5" y="2059.5" width="273" height="24"/>
<rect class="ft" x="17.5" y="2083.5" width="273" height="24"/>
<path class="n" d="M145.5,2083.5v24M211.5,2083.5v24"/>
<text class="t" x="21.5" y="2052">AGENCY_ATTACHMENT_INTERFACES</text>
<text class="t" x="21.5" y="2076">...</text>
<text class="t" x="21.5" y="2100">&lt; 2</text>
<text class="t e" x="286.5" y="2100">2 &gt;</text>
</g>

<text class="t" x="16" y="3601">Generated by SchemaSpy</text>
</svg>
